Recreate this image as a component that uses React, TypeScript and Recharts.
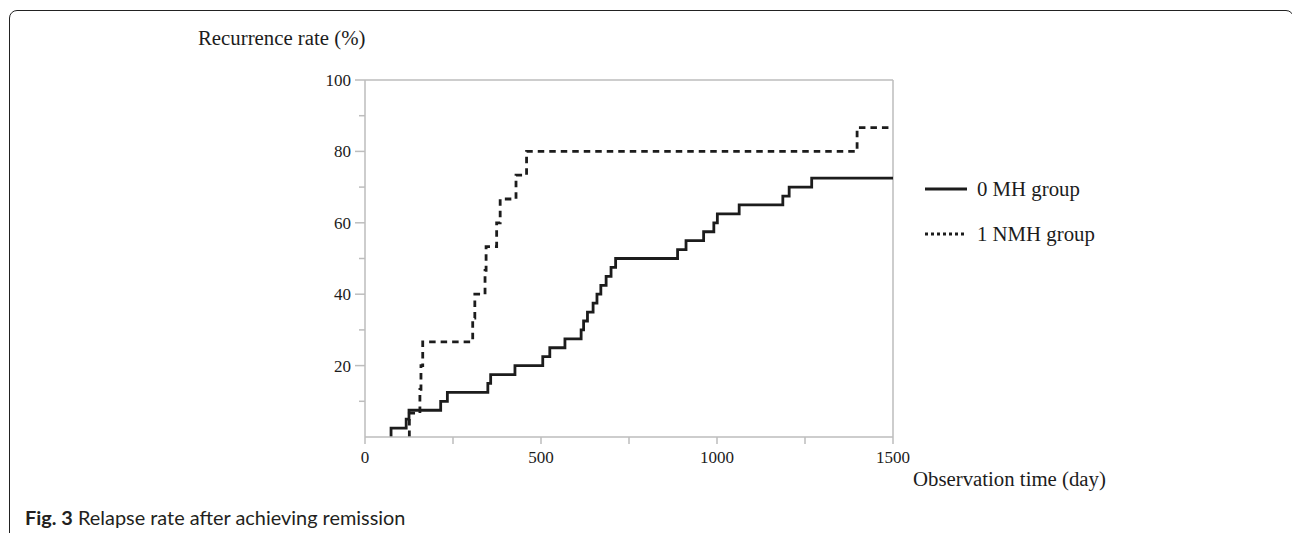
import { Legend, Line, LineChart, ReferenceLine, XAxis, YAxis } from 'recharts';

// Kaplan-Meier style cumulative recurrence
const MH_DAYS = [74, 74, 117, 125, 215, 234, 349, 357, 426, 505, 525, 568, 614, 621, 632, 648, 659, 670, 685, 699, 712, 888, 912, 962, 991, 1001, 1063, 1187, 1205, 1269, 1500];
const MH_RATE = [0, 2.5, 5, 7.5, 10, 12.5, 15, 17.5, 20, 22.5, 25, 27.5, 30, 32.5, 35, 37.5, 40, 42.5, 45, 47.5, 50, 52.5, 55, 57.5, 60, 62.5, 65, 67.5, 70, 72.5, 72.5];

const NMH_DAYS = [126, 126, 156, 159, 164, 306, 312, 341, 344, 374, 384, 429, 459, 1398, 1500];
const NMH_RATE = [0, 6.67, 13.33, 20, 26.67, 33.33, 40, 46.67, 53.33, 60, 66.67, 73.33, 80, 86.67, 86.67];

const X_TICKS = [0, 250, 500, 750, 1000, 1250, 1500];
const X_LABELS = [0, 500, 1000, 1500];
const Y_TICKS = [10, 20, 30, 40, 50, 60, 70, 80, 90, 100];
const Y_LABELS = [20, 40, 60, 80, 100];

const SERIES_NAMES = ['0 MH group', '1 NMH group'];

const mhData = MH_DAYS.map((t, i) => ({ t, v: MH_RATE[i] }));
const nmhData = NMH_DAYS.map((t, i) => ({ t, v: NMH_RATE[i] }));

const SERIF = '"Liberation Serif", "Times New Roman", serif';
const INK = '#1c1c1c';
const AXIS = '#bdbdbd';

const Y_TICK_SIZE = 10;
const Y_TICK_MARGIN = 4;

function YTick(props: any) {
  const { x, y, payload } = props;
  const v = payload.value;
  const major = Y_LABELS.includes(v);
  const ax = x + Y_TICK_SIZE + Y_TICK_MARGIN;
  return (
    <g>
      <line x1={ax - (major ? 10 : 6)} x2={ax} y1={y} y2={y} stroke={AXIS} strokeWidth={1.5} />
      {major && (
        <text x={x} y={y} dy="0.355em" textAnchor="end" fontFamily={SERIF} fontSize={17} fill={INK}>
          {v}
        </text>
      )}
    </g>
  );
}

function LegendBox() {
  return (
    <div style={{ fontFamily: SERIF, fontSize: 20.8, color: INK }}>
      {SERIES_NAMES.map((name, i) => (
        <div key={name} style={{ display: 'flex', alignItems: 'center', height: 44.4 }}>
          <svg width={42} height={10} style={{ marginRight: 10 }}>
            <line
              x1={0}
              x2={42}
              y1={5}
              y2={5}
              stroke={INK}
              strokeWidth={3}
              strokeDasharray={i === 0 ? undefined : '3 3'}
            />
          </svg>
          <span>{name}</span>
        </div>
      ))}
    </div>
  );
}

export default function App() {
  return (
    <div
      style={{
        position: 'fixed',
        left: 0,
        top: 0,
        width: 1292,
        height: 533,
        overflow: 'hidden',
        background: '#fff',
      }}
    >
      <div
        style={{
          position: 'absolute',
          left: 9,
          top: 10,
          width: 1285,
          height: 600,
          boxSizing: 'border-box',
          border: '1.5px solid #222',
          borderRadius: 8,
        }}
      />

      <div
        style={{
          position: 'absolute',
          left: 198,
          top: 26,
          fontFamily: SERIF,
          fontSize: 20.8,
          lineHeight: '24px',
          color: INK,
          whiteSpace: 'nowrap',
        }}
      >
        Recurrence rate (%)
      </div>
      <div
        style={{
          position: 'absolute',
          left: 913,
          top: 467,
          fontFamily: SERIF,
          fontSize: 20.8,
          lineHeight: '24px',
          color: INK,
          whiteSpace: 'nowrap',
        }}
      >
        Observation time (day)
      </div>

      <div style={{ position: 'absolute', left: 0, top: 0 }}>
        <LineChart width={1292} height={533} margin={{ top: 80, right: 399, bottom: 66, left: 305 }}>
          <XAxis
            dataKey="t"
            type="number"
            domain={[0, 1500]}
            ticks={X_TICKS}
            allowDataOverflow
            height={30}
            tickSize={7}
            tickMargin={7}
            tickFormatter={(v: number) => (X_LABELS.includes(v) ? String(v) : '')}
            tick={{ fontFamily: SERIF, fontSize: 17, fill: INK }}
            axisLine={{ stroke: AXIS, strokeWidth: 1.5 }}
            tickLine={{ stroke: AXIS, strokeWidth: 1.5 }}
          />
          <YAxis
            type="number"
            domain={[0, 100]}
            ticks={Y_TICKS}
            allowDataOverflow
            width={60}
            tickSize={Y_TICK_SIZE}
            tickMargin={Y_TICK_MARGIN}
            tickLine={false}
            tick={<YTick />}
            axisLine={{ stroke: AXIS, strokeWidth: 1.5 }}
          />
          <ReferenceLine y={100} stroke={AXIS} strokeWidth={1.5} />
          <ReferenceLine x={1500} stroke={AXIS} strokeWidth={1.5} />
          <Line
            data={mhData}
            dataKey="v"
            name={SERIES_NAMES[0]}
            type="stepAfter"
            stroke={INK}
            strokeWidth={2.8}
            dot={false}
            isAnimationActive={false}
          />
          <Line
            data={nmhData}
            dataKey="v"
            name={SERIES_NAMES[1]}
            type="stepAfter"
            stroke={INK}
            strokeWidth={2.8}
            strokeDasharray="6.5 5"
            dot={false}
            isAnimationActive={false}
          />
          <Legend
            layout="vertical"
            align="center"
            verticalAlign="middle"
            content={<LegendBox />}
            wrapperStyle={{ left: 925, top: 167, width: 220 }}
          />
        </LineChart>
      </div>

      <div
        style={{
          position: 'absolute',
          left: 25,
          top: 505,
          fontFamily: 'Lato, "Open Sans", sans-serif',
          fontSize: 19.9,
          lineHeight: 'normal',
          color: '#231f20',
          whiteSpace: 'nowrap',
        }}
      >
        <b>Fig. 3</b> Relapse rate after achieving remission
      </div>
    </div>
  );
}
